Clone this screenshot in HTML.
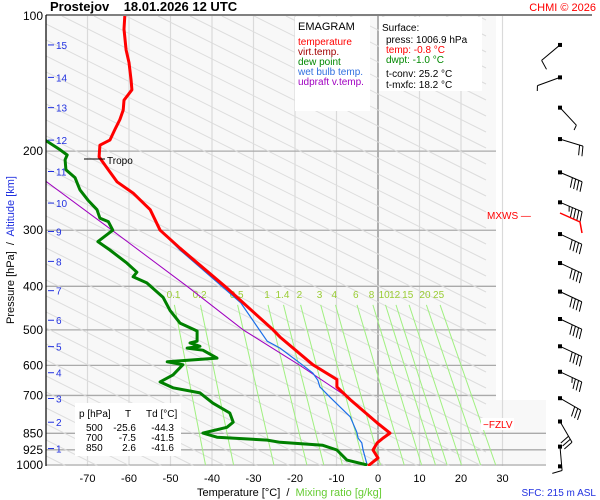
<!DOCTYPE html>
<html><head><meta charset="utf-8">
<style>
html,body{margin:0;background:#fff;overflow:hidden;width:600px;height:500px;}
svg{display:block;font-family:"Liberation Sans",sans-serif;}
</style></head>
<body>
<svg id="c" width="600" height="500" viewBox="0 0 600 500" xmlns="http://www.w3.org/2000/svg">
<defs>
<clipPath id="plotclip"><polygon points="46,16 496,16 496,400 546,400 546,466 46,466"/></clipPath>
<clipPath id="plotclip2"><rect x="46" y="16" width="500" height="450"/></clipPath>
</defs>
<rect x="46" y="16" width="450" height="450" fill="#f8f8f8"/>
<rect x="496" y="400" width="50" height="66" fill="#f8f8f8"/>
<g id="grid"></g>
<g id="adiab" clip-path="url(#plotclip)"></g>
<g id="mix" clip-path="url(#plotclip)"></g>
<g id="series" clip-path="url(#plotclip2)"></g>
<line x1="46" y1="15" x2="592" y2="15" stroke="#000" stroke-width="1"/>
<line x1="46" y1="15" x2="46" y2="466" stroke="#000" stroke-width="1.2"/>
<text x="50" y="11" font-size="13" font-weight="bold" xml:space="preserve">Prostejov    18.01.2026 12 UTC</text>
<text x="596" y="11" font-size="11" fill="#f00" text-anchor="end">CHMI © 2026</text>
<g>
<rect x="295" y="17" width="75" height="94" fill="#fff"/>
<text x="298" y="30" font-size="11">EMAGRAM</text>
<text x="298" y="45" font-size="10" fill="#f00">temperature</text>
<text x="298" y="55" font-size="10" fill="#a00000">virt.temp.</text>
<text x="298" y="65" font-size="10" fill="#080">dew point</text>
<text x="298" y="75" font-size="10" fill="#3070e0">wet bulb temp.</text>
<text x="298" y="85" font-size="10" fill="#a000c0">udpraft v.temp.</text>
</g>
<g>
<rect x="379" y="17" width="103" height="74" fill="#fff"/>
<text x="382" y="31" font-size="10">Surface:</text>
<text x="386" y="43" font-size="10">press: 1006.9 hPa</text>
<text x="386" y="53" font-size="10" fill="#f00">temp: -0.8 °C</text>
<text x="386" y="63" font-size="10" fill="#080">dwpt: -1.0 °C</text>
<text x="386" y="77" font-size="10">t-conv: 25.2 °C</text>
<text x="386" y="88" font-size="10">t-mxfc: 18.2 °C</text>
</g>
<g>
<rect x="75" y="403" width="106" height="53" fill="#fff"/>
<text x="79" y="417" font-size="10">p [hPa]</text><text x="125" y="417" font-size="10">T</text><text x="146" y="417" font-size="10">Td [°C]</text>
<text x="86" y="431" font-size="10">500</text><text x="136" y="431" font-size="10" text-anchor="end">-25.6</text><text x="174" y="431" font-size="10" text-anchor="end">-44.3</text>
<text x="86" y="441" font-size="10">700</text><text x="136" y="441" font-size="10" text-anchor="end">-7.5</text><text x="174" y="441" font-size="10" text-anchor="end">-41.5</text>
<text x="86" y="451" font-size="10">850</text><text x="136" y="451" font-size="10" text-anchor="end">2.6</text><text x="174" y="451" font-size="10" text-anchor="end">-41.6</text>
</g>
<g id="axes"></g>
<g id="barbs"></g>
<line x1="84" y1="159" x2="105" y2="159" stroke="#000" stroke-width="1"/>
<text x="107" y="164" font-size="10">Tropo</text>
<text x="487" y="219" font-size="10" fill="#f00">MXWS —</text>
<rect x="481" y="418" width="33" height="12" fill="#fff"/>
<text x="483" y="428" font-size="10" fill="#f00">−FZLV</text>
<text x="197" y="496" font-size="11" xml:space="preserve">Temperature [°C]  /  <tspan fill="#66cc33">Mixing ratio [g/kg]</tspan></text>
<text x="596" y="496" font-size="10" fill="#2030e0" text-anchor="end">SFC: 215 m ASL</text>
<text transform="translate(14,250) rotate(-90)" font-size="11" text-anchor="middle" xml:space="preserve">Pressure [hPa]  /  <tspan fill="#2030e0">Altitude [km]</tspan></text>
</svg>
<script>
const tempP=[1007,964,926,893,871,849,806,715,670,645,598,519,500,400,329,300,270,248,234,220,206,194,189,179,170,162,154,146,139,127,119,107,100];
const tempT=[-2.4,0,-1.2,-0.2,1.2,2.9,-0.2,-6.7,-9.9,-9.9,-15.7,-23.6,-25.3,-36.9,-47.7,-52.5,-54.9,-59,-62.9,-65,-67.2,-67,-64.6,-63.4,-62.2,-61.4,-61.2,-59.3,-59.5,-60,-60.7,-61.2,-61];
const dewP=[1000,975,926,904,890,880,867,849,824,803,766,728,691,673,653,630,598,589,578,555,549,544,535,530,503,483,453,423,393,381,372,355,332,318,300,287,282,270,257,244,238,229,220,209,204,198.6,189];
const dewT=[-2.6,-7.5,-9.9,-13.3,-23.6,-26.7,-38.8,-42.2,-36.4,-34.9,-35.7,-39.8,-42.9,-49.4,-52.5,-49.4,-47,-50.8,-38.8,-42.2,-46,-42.9,-45.3,-43.6,-43.6,-47.7,-50.1,-51.8,-55.7,-59,-58.1,-60.5,-64.6,-67.5,-63.9,-65,-67,-67.7,-69.9,-71.8,-72.3,-73,-75.2,-75.4,-74.9,-76.6,-80.2];
const wbP=[1000,926,893,871,845,781,706,670,647,624,598,549,530,436,397,332,300];
const wbT=[-2.6,-3.6,-3.9,-4.8,-5.1,-6.7,-11.6,-14,-14.5,-15.7,-18.3,-23.6,-26.7,-33,-38,-47.7,-52.5];
const updP=[699,681,600,500,400,300,228.5];
const updT=[-8,-9.9,-18.8,-32.5,-46,-64.1,-81.4];
const pressTicks=[100,200,300,400,500,600,700,850,925,1000];
const tempTicks=[-70,-60,-50,-40,-30,-20,-10,0,10,20,30];
const altP=[116,137,160,189,222,261,302,352,409,476,545,623,711,803,919];
const altLabels=[15,14,13,12,11,10,9,8,7,6,5,4,3,2,1];
const mixRatios=[0.1,0.2,0.5,1,1.4,2,3,4,6,8,10,12,15,20,25];
const mixLabels=["0.1","0.2","0.5","1","1.4","2","3","4","6","8","10","12","15","20","25"];
const barbP=[116,137,160,188,223,260,306,355,411,473,544,620,710,800,910,1007];
const barbAngle=[140,160,47,17,23,23,25,25,25,25,25,25,30,60,85,0];
const barbSpeed=[10,5,5,20,40,45,40,40,40,40,40,35,30,30,10,0];

const NS="http://www.w3.org/2000/svg";
function X(t){return 378+t*4.15;}
function Y(p){return 16+449*Math.log10(p/100);}
function mk(tag,parent,attrs){const e=document.createElementNS(NS,tag);for(const k in attrs)e.setAttribute(k,attrs[k]);document.getElementById(parent).appendChild(e);return e;}
function pts(P,T){return P.map((p,i)=>{let y=Math.min(466,Math.max(16,Y(p)));return X(T[i]).toFixed(1)+","+y.toFixed(1);}).join(" ");}

for(let i=0;i<tempTicks.length;i++){const t=tempTicks[i];
  const ln=mk("line","grid",{x1:X(t),x2:X(t),y1:16,y2:466,stroke:t===0?"#888":"#dadada","stroke-width":t===0?1.3:1.2});
  
  
  const tx=mk("text","axes",{x:X(t),y:482,"font-size":11,"text-anchor":"middle"});tx.textContent=t;
  
  
}
for(let i=0;i<pressTicks.length;i++){const p=pressTicks[i];
  if(p!==100){const ln=mk("line","grid",{x1:46,x2:p>=850?546:496,y1:Y(p),y2:Y(p),stroke:"#aaa","stroke-width":1.3});
  
  }
  const tx=mk("text","axes",{x:43,y:Y(p)+4,"font-size":12,"text-anchor":"end"});tx.textContent=p;
  
  
}
for(let i=0;i<altP.length;i++){const y=Y(altP[i]);
  const ln=mk("line","axes",{x1:48,x2:54,y1:y,y2:y,stroke:"#2030e0","stroke-width":1});
  
  
  const tx=mk("text","axes",{x:56,y:y+4,"font-size":10,fill:"#2030e0"});tx.textContent=altLabels[i];
  
  
}
for(let c=-200;c<=466;c+=16){
  let xa=46,ya=c; if(ya<16){xa=46+(16-c)*2;ya=16;}
  let xb=486,yb=c+0.5*(486-46); if(yb>466){xb=46+(466-c)*2;yb=466;}
  if(xa>=xb)continue;
  const ln=mk("line","adiab",{x1:xa,y1:ya,x2:xb,y2:yb,stroke:"#dcdcdc","stroke-width":1});
  
  
}
function tdOf(w,p){const e=w*p/(622+w);const l=Math.log(e/6.112);return 243.5*l/(17.67-l);}
for(let i=0;i<mixRatios.length;i++){const w=mixRatios[i];
  const P=[440,1000],T=P.map(p=>tdOf(w,p));
  const pl=mk("polyline","mix",{points:pts(P,T),fill:"none",stroke:"#a0f080","stroke-width":1});
  
  
  const tx=mk("text","mix",{x:X(tdOf(w,430)),y:298,"font-size":10,fill:"#99cc33","text-anchor":"middle"});tx.textContent=mixLabels[i];
  
  
}
let s=mk("polyline","series",{points:pts(updP,updT),fill:"none",stroke:"#a000c0","stroke-width":1});


s=mk("polyline","series",{points:pts(wbP,wbT),fill:"none",stroke:"#1a6ee8","stroke-width":1.2});


s=mk("polyline","series",{points:pts(dewP,dewT),fill:"none",stroke:"#008000","stroke-width":3,"stroke-linejoin":"round"});


s=mk("polyline","series",{points:pts(tempP,tempT),fill:"none",stroke:"#ff0000","stroke-width":3,"stroke-linejoin":"round"});


for(let i=0;i<barbP.length;i++){const y0=Y(barbP[i]),x0=560;
  const g=mk("g","barbs",{});
  
  
  const dot=document.createElementNS(NS,"rect");dot.setAttribute("x",x0-2);dot.setAttribute("y",y0-2);dot.setAttribute("width",4);dot.setAttribute("height",4);g.appendChild(dot);
  if(barbSpeed[i]===0)continue;
  const a=barbAngle[i]*Math.PI/180,L=24,x1=x0+L*Math.cos(a),y1=y0+L*Math.sin(a);
  const sh=document.createElementNS(NS,"line");sh.setAttribute("x1",x0);sh.setAttribute("y1",y0);sh.setAttribute("x2",x1);sh.setAttribute("y2",y1);sh.setAttribute("stroke","#000");g.appendChild(sh);
  let sp=barbSpeed[i],k=0;const px=-Math.sin(a),py=Math.cos(a);
  const perp=(a>Math.PI/2)?-1:1;
  while(sp>=5){const len=sp>=10?10:5;const bx=x1-k*3.5*Math.cos(a),by=y1-k*3.5*Math.sin(a);
    const b=document.createElementNS(NS,"line");b.setAttribute("x1",bx);b.setAttribute("y1",by);
    b.setAttribute("x2",bx+perp*len*px+2*Math.cos(a));b.setAttribute("y2",by+perp*len*py+2*Math.sin(a));b.setAttribute("stroke","#000");g.appendChild(b);
    sp-=len===10?10:5;k++;}
}
const mw=mk("polyline","barbs",{points:"560,213 580,222 582,233",fill:"none",stroke:"#f00","stroke-width":1.5});


</script>
</body></html>
